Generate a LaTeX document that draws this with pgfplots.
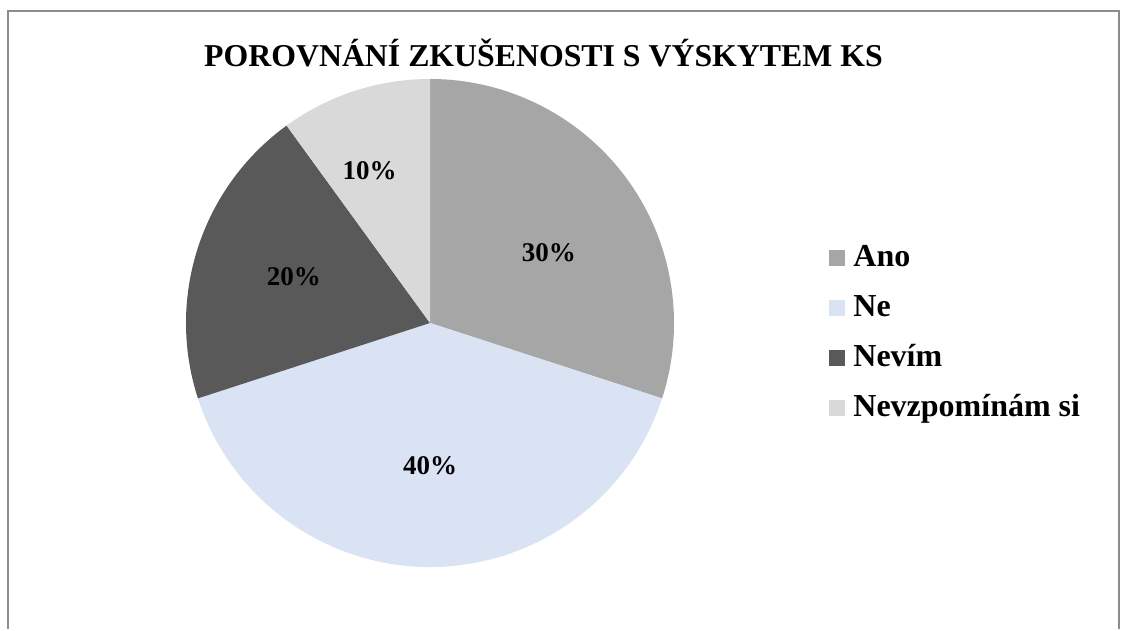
\documentclass[border=0pt]{standalone}
\usepackage{fontspec}
\setmainfont{Liberation Serif}
\usepackage{pgfplots}
\usepackage{pgfplotstable}
\pgfplotsset{compat=1.18}

\definecolor{cAno}{HTML}{A6A6A6}
\definecolor{cNe}{HTML}{DAE3F3}
\definecolor{cNevim}{HTML}{595959}
\definecolor{cNevz}{HTML}{D9D9D9}
\definecolor{framegray}{HTML}{8C8C8C}

% share in percent, slice colour, label direction (deg) and distance (px) from centre
\pgfplotstableread[col sep=comma]{
label,value,color,lang,ldist
Ano,30,cAno,30.5,138
Ne,40,cNe,-90,143
Nevím,20,cNevim,161.3,143.6
Nevzpomínám si,10,cNevz,111.7,163.6
}\piedata

% cumulative angles, clockwise from 12 o'clock
\def\curang{90}
\pgfplotsforeachungrouped \i in {0,...,3}{%
  \pgfplotstablegetelem{\i}{value}\of\piedata \let\v\pgfplotsretval
  \pgfmathsetmacro\endang{\curang-3.6*\v}%
  \expandafter\xdef\csname sa\i\endcsname{\curang}%
  \expandafter\xdef\csname ea\i\endcsname{\endang}%
  \expandafter\xdef\csname val\i\endcsname{\v}%
  \pgfplotstablegetelem{\i}{color}\of\piedata
  \expandafter\xdef\csname col\i\endcsname{\pgfplotsretval}%
  \pgfplotstablegetelem{\i}{label}\of\piedata
  \expandafter\xdef\csname lab\i\endcsname{\pgfplotsretval}%
  \pgfplotstablegetelem{\i}{lang}\of\piedata
  \expandafter\xdef\csname la\i\endcsname{\pgfplotsretval}%
  \pgfplotstablegetelem{\i}{ldist}\of\piedata
  \expandafter\xdef\csname ld\i\endcsname{\pgfplotsretval}%
  \global\let\curang\endang
}

\newcommand\pieslice[1]{%
  \edef\sa{\csname sa#1\endcsname}\edef\ea{\csname ea#1\endcsname}%
  \edef\sc{\csname col#1\endcsname}%
  \fill[\sc] (axis cs:430,306) -- ++(\sa:122pt)
    arc[start angle=\sa, end angle=\ea, radius=122pt] -- cycle;
}
\newcommand\pielabel[1]{%
  \edef\la{\csname la#1\endcsname}\edef\ld{\csname ld#1\endcsname}%
  \node[font=\fontsize{13.5}{16}\selectfont\bfseries]
    at ([shift={(\la:{0.5pt*\ld})}]axis cs:430,306) {\csname val#1\endcsname\%};
}
\newcommand\pielegend[1]{%
  \edef\sc{\csname col#1\endcsname}%
  \pgfmathsetmacro\ly{371-50*#1}%
  \pgfmathsetmacro\lb{362-50*#1}%
  \fill[\sc] ([shift={(-4pt,-4pt)}]axis cs:837,\ly) rectangle ++(8pt,8pt);
  \node[anchor=base west, inner sep=0pt, font=\fontsize{16}{19}\selectfont\bfseries]
    at (axis cs:853,\lb) {\csname lab#1\endcsname};
}

\begin{document}
\begin{tikzpicture}
\begin{axis}[
  width=564pt, height=314.5pt,
  scale only axis,
  xmin=0, xmax=1128, ymin=0, ymax=629,
  hide axis,
  clip=false,
]
\pgfplotsextra{
  \path (rel axis cs:0,0) rectangle (rel axis cs:1,1);
  \draw[framegray, line width=1.1pt] (axis cs:8,0) -- (axis cs:8,618)
    -- (axis cs:1119,618) -- (axis cs:1119,0);
  \pieslice{0}\pieslice{1}\pieslice{2}\pieslice{3}
  \pielabel{0}\pielabel{1}\pielabel{2}\pielabel{3}
  \pielegend{0}\pielegend{1}\pielegend{2}\pielegend{3}
  \node[anchor=base, inner sep=0pt, font=\fontsize{15.9}{18}\selectfont\bfseries]
    at (axis cs:543.5,562) {POROVNÁNÍ ZKUŠENOSTI S VÝSKYTEM KS};
}
\end{axis}
\end{tikzpicture}
\end{document}
